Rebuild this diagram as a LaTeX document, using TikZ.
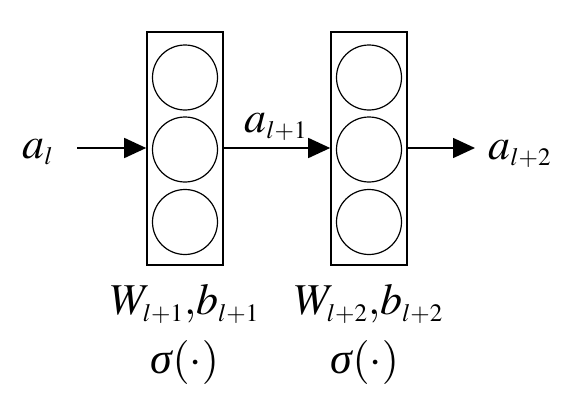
\documentclass[tikz,border=0pt]{standalone}
\usepackage{mathptmx}
\usepackage{fontspec}
\setmainfont{Liberation Serif}
\DeclareMathSizes{22}{22}{12.5}{10}
\usetikzlibrary{arrows.meta, positioning}
\newcommand{\actfn}{\mbox{\itshape σ}(\cdot)}

\begin{document}
\begin{tikzpicture}[x=0.5pt, y=-0.5pt,
    layer/.style={rectangle, draw, line width=0.8pt, minimum width=38pt,
                  minimum height=116.5pt, inner sep=0pt},
    neuron/.style={circle, draw, line width=0.6pt, minimum size=32.5pt, inner sep=0pt},
    arrow/.style={-{Triangle[length=11pt, width=10pt]}, line width=0.8pt},
    lbl/.style={inner sep=0pt, font=\fontsize{22}{26}\selectfont},
]
\useasboundingbox (0,0) rectangle (574,412);
% layers
\node[layer] (l1) at (185,148.5) {};
\node[layer] (l2) at (369,148.5) {};
\foreach \k/\y in {1/77.5, 2/149.5, 3/222} {
  \node[neuron] (n1\k) at (185,\y) {};
  \node[neuron] (n2\k) at (369,\y) {};
}
% signals
\node[lbl] (in)  at (38,152)  {$a_l$};
\node[lbl] (mid) at (276,127) {$a_{l+1}$};
\node[lbl] (out) at (520,154) {$a_{l+2}$};
\coordinate (inS)  at (77,148);
\coordinate (outE) at (475,148);
% connections
\draw[arrow] (inS) -- (l1.west |- inS);
\draw[arrow] (l1.east |- inS) -- (l2.west |- inS);
\draw[arrow] (l2.east |- inS) -- (outE);
% parameters
\node[lbl] (p1) at (185,304) {$W_{l+1}{,}b_{l+1}$};
\node[lbl] (s1) at (185,362) {$\actfn$};
\node[lbl] (p2) at (369,304) {$W_{l+2}{,}b_{l+2}$};
\node[lbl] (s2) at (365,362) {$\actfn$};
\end{tikzpicture}
\end{document}
